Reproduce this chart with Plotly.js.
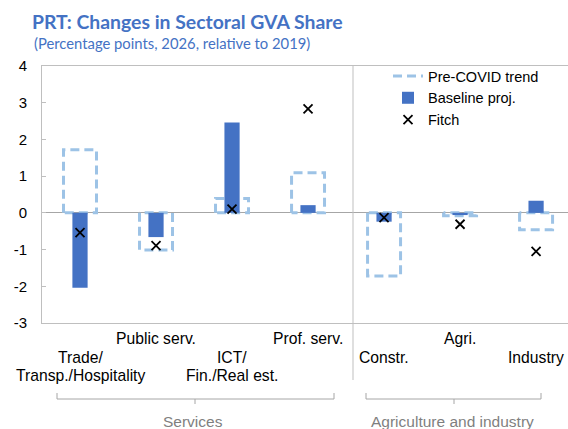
<!DOCTYPE html>
<html>
<head>
<meta charset="utf-8">
<script src="https://cdn.plot.ly/plotly-3.0.1.min.js"></script>
<style>html,body{margin:0;padding:0;background:#fff;}#chart{width:568px;height:429px;}</style>
</head>
<body>
<div id="chart"></div>
<script>
// ---- data ----
const categories = ['Trade/<br>Transp./Hospitality', 'Public serv.', 'ICT/<br>Fin./Real est.', 'Prof. serv.', 'Constr.', 'Agri.', 'Industry'];
const preCovid = [1.72, -1.01, 0.39, 1.09, -1.72, -0.08, -0.46];
const baseline = [-2.04, -0.66, 2.46, 0.21, -0.24, -0.06, 0.33];
const fitch = [-0.54, -0.89, 0.10, 2.83, -0.13, -0.31, -1.05];
const groups = ['Services', 'Agriculture and industry'];
const yTicks = [-3, -2, -1, 0, 1, 2, 3, 4];

// ---- layout helpers ----
const W = 568, H = 429;
const M = {l: 42, r: 0, t: 66, b: 106};
const pw = W - M.l - M.r, ph = H - M.t - M.b;
const px2x = p => (p - M.l) / pw;
const py2y = p => (H - M.b - p) / ph;
const FONT = 'Liberation Sans, Arial, sans-serif';
const idx = categories.map((c, i) => i);
const halfW = 0.217;

// pre-COVID dashed outlines built from the values
const pcx = [], pcy = [];
preCovid.forEach((v, i) => {
  pcx.push(i - halfW, i - halfW, i + halfW, i + halfW, i - halfW, null);
  pcy.push(0, v, v, 0, 0, null);
});

const traces = [
  {type: 'scatter', mode: 'lines', name: 'Pre-COVID trend', x: pcx, y: pcy,
   line: {color: '#9DC3E6', width: 3, dash: '9px,5px'}, connectgaps: false,
   xaxis: 'x', yaxis: 'y', hoverinfo: 'skip'},
  {type: 'bar', name: 'Baseline proj.', x: idx, y: baseline, width: 0.2,
   marker: {color: '#4472C4'}, xaxis: 'x2', yaxis: 'y2'},
  {type: 'scatter', mode: 'markers', name: 'Fitch', x: idx, y: fitch,
   marker: {symbol: 'x-thin', size: 9, color: '#000', line: {color: '#000', width: 1.8}},
   xaxis: 'x2', yaxis: 'y2'}
];

const xr = [-0.5, 6.42], yr = [-3, 4];

const annotations = [];
// category labels (staggered rows)
categories.forEach((c, i) => {
  const lines = c.split('<br>');
  const start = (i % 2 === 1) ? 338 : 357;
  lines.forEach((ln, j) => {
    annotations.push({text: ln, xref: 'x', yref: 'paper', x: i, y: py2y(start + 18 * j),
      xanchor: 'center', yanchor: 'middle', showarrow: false,
      font: {family: FONT, size: 15.7, color: '#000'}});
  });
});
// group labels
const groupCenters = [193, 452];
groups.forEach((g, k) => {
  annotations.push({text: g, xref: 'paper', yref: 'paper', x: px2x(groupCenters[k]), y: py2y(421),
    xanchor: 'center', yanchor: 'middle', showarrow: false,
    font: {family: FONT, size: 15.5, color: '#7F7F7F'}});
});
// subtitle
annotations.push({text: '(Percentage points, 2026, relative to 2019)', xref: 'paper', yref: 'paper',
  x: px2x(32), y: py2y(43), xanchor: 'left', yanchor: 'middle', showarrow: false,
  font: {family: 'Lato, sans-serif', size: 14.8, color: '#4472C4'}});

const shapes = [];
// separator line
shapes.push({type: 'line', xref: 'paper', yref: 'paper', x0: px2x(353), x1: px2x(353), y0: 1, y1: py2y(380),
  line: {color: '#BFBFBF', width: 1}});
// brackets
const brackets = [[57, 334, 195], [366, 541, 454]];
brackets.forEach(b => {
  const yT = py2y(393), yH = py2y(399), yB = py2y(404);
  const c = {color: '#A6A6A6', width: 1};
  shapes.push({type: 'line', xref: 'paper', yref: 'paper', x0: px2x(b[0]), x1: px2x(b[1]), y0: yH, y1: yH, line: c});
  shapes.push({type: 'line', xref: 'paper', yref: 'paper', x0: px2x(b[0]), x1: px2x(b[0]), y0: yT, y1: yH, line: c});
  shapes.push({type: 'line', xref: 'paper', yref: 'paper', x0: px2x(b[1]), x1: px2x(b[1]), y0: yT, y1: yH, line: c});
  shapes.push({type: 'line', xref: 'paper', yref: 'paper', x0: px2x(b[2]), x1: px2x(b[2]), y0: yH, y1: yB, line: c});
});

const layout = {
  width: W, height: H,
  margin: M,
  paper_bgcolor: '#fff', plot_bgcolor: '#fff',
  font: {family: FONT, size: 15, color: '#000'},
  title: {text: '<b>PRT: Changes in Sectoral GVA Share</b>', xref: 'container', yref: 'container',
    x: 32 / W, xanchor: 'left', y: 1 - 22.5 / H, yanchor: 'middle',
    font: {family: 'Lato, sans-serif', size: 19.4, color: '#4472C4'}},
  showlegend: true,
  legend: {x: px2x(388), y: 1 + 6 / ph, xanchor: 'left', yanchor: 'top', bgcolor: 'rgba(0,0,0,0)',
    font: {family: FONT, size: 14.5, color: '#000'}, itemwidth: 30, tracegroupgap: 0},
  barmode: 'overlay',
  xaxis: {range: xr, showticklabels: false, ticks: '', showgrid: false, zeroline: false,
    showline: true, linecolor: '#BFBFBF', linewidth: 1, mirror: true, fixedrange: true},
  yaxis: {range: yr, tickvals: yTicks, ticktext: yTicks.map(String), ticks: 'inside', ticklen: 4,
    tickcolor: '#BFBFBF', showgrid: false, zeroline: true, zerolinecolor: '#A6A6A6', zerolinewidth: 1,
    showline: true, linecolor: '#BFBFBF', linewidth: 1, mirror: true, ticklabelstandoff: 11,
    tickfont: {family: FONT, size: 15, color: '#000'}, fixedrange: true},
  xaxis2: {range: xr, overlaying: 'x', visible: false, fixedrange: true},
  yaxis2: {range: yr, overlaying: 'y', visible: false, fixedrange: true},
  annotations: annotations,
  shapes: shapes
};

Plotly.newPlot('chart', traces, layout, {displayModeBar: false, staticPlot: true});
</script>
</body>
</html>
